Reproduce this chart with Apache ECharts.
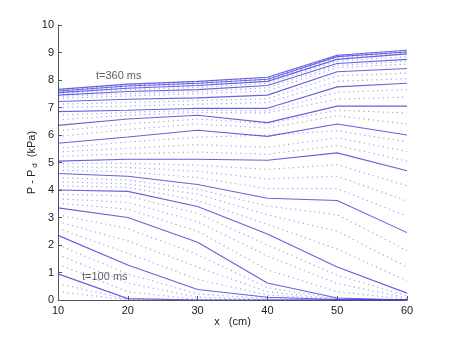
<!DOCTYPE html>
<html>
<head>
<meta charset="utf-8">
<style>
  html, body { margin: 0; padding: 0; background: #fff; }
  #chart { width: 450px; height: 339px; }
</style>
<script src="https://cdn.jsdelivr.net/npm/echarts@6/dist/echarts.min.js"></script>
</head>
<body>
<div id="chart"></div>
<script>
// Axial positions (cm)
const xCm = [10, 20, 30, 40, 50, 60];
const xTicks = [10, 20, 30, 40, 50, 60];
const yTicks = [0, 1, 2, 3, 4, 5, 6, 7, 8, 9, 10];

// Pressure profiles P - Pd (kPa) every 20 ms, solid
const p100 = [0.95, 0.05, 0.00, 0.00, 0.00, 0.00];
const p120 = [2.35, 1.27, 0.38, 0.10, 0.02, 0.00];
const p140 = [3.35, 3.00, 2.10, 0.62, 0.07, 0.00];
const p160 = [4.00, 3.95, 3.40, 2.40, 1.20, 0.25];
const p180 = [4.60, 4.50, 4.20, 3.70, 3.62, 2.45];
const p200 = [5.05, 5.12, 5.12, 5.08, 5.35, 4.70];
const p220 = [5.70, 5.93, 6.17, 5.95, 6.40, 6.00];
const p240 = [6.35, 6.58, 6.72, 6.45, 7.05, 7.05];
const p260 = [6.85, 6.90, 6.97, 6.97, 7.75, 7.88];
const p280 = [7.22, 7.30, 7.35, 7.45, 8.30, 8.42];
const p300 = [7.45, 7.58, 7.65, 7.80, 8.60, 8.75];
const p320 = [7.54, 7.70, 7.80, 7.95, 8.75, 8.95];
const p340 = [7.60, 7.78, 7.88, 8.03, 8.85, 9.02];
const p360 = [7.66, 7.85, 7.95, 8.10, 8.90, 9.08];

// Intermediate profiles, dotted
const d90  = [0.30, 0.00, 0.00, 0.00, 0.00, 0.00];
const d95  = [0.60, 0.02, 0.00, 0.00, 0.00, 0.00];
const d105 = [1.30, 0.30, 0.02, 0.00, 0.00, 0.00];
const d110 = [1.65, 0.62, 0.10, 0.02, 0.00, 0.00];
const d115 = [2.00, 0.95, 0.22, 0.05, 0.01, 0.00];
const d125 = [2.60, 1.70, 0.75, 0.18, 0.03, 0.00];
const d130 = [2.85, 2.15, 1.20, 0.30, 0.04, 0.00];
const d135 = [3.10, 2.60, 1.65, 0.45, 0.05, 0.00];
const d145 = [3.52, 3.30, 2.50, 1.10, 0.30, 0.03];
const d150 = [3.68, 3.55, 2.85, 1.60, 0.60, 0.08];
const d155 = [3.85, 3.78, 3.15, 2.00, 0.90, 0.15];
const d165 = [4.15, 4.10, 3.62, 2.75, 1.85, 0.70];
const d170 = [4.30, 4.22, 3.85, 3.10, 2.50, 1.20];
const d175 = [4.45, 4.36, 4.03, 3.42, 3.10, 1.80];
const d185 = [4.72, 4.66, 4.45, 4.05, 4.05, 3.05];
const d190 = [4.85, 4.82, 4.68, 4.40, 4.50, 3.60];
const d195 = [4.96, 4.97, 4.90, 4.75, 4.92, 4.15];
const d205 = [5.22, 5.32, 5.38, 5.30, 5.62, 5.05];
const d210 = [5.38, 5.52, 5.65, 5.55, 5.90, 5.40];
const d215 = [5.52, 5.75, 5.92, 6.00, 6.15, 5.75];
const d227 = [5.95, 6.20, 6.40, 6.25, 6.70, 6.40];
const d233 = [6.15, 6.40, 6.58, 6.42, 6.90, 6.80];
const d247 = [6.55, 6.72, 6.82, 6.80, 7.30, 7.38];
const d253 = [6.72, 6.82, 6.90, 6.88, 7.55, 7.65];
const d267 = [7.00, 7.05, 7.12, 7.18, 7.95, 8.05];
const d273 = [7.12, 7.18, 7.25, 7.32, 8.15, 8.25];
const d287 = [7.33, 7.42, 7.50, 7.60, 8.45, 8.58];
const d293 = [7.40, 7.50, 7.58, 7.72, 8.53, 8.68];
const d310 = [7.50, 7.65, 7.73, 7.88, 8.68, 8.85];
const d330 = [7.57, 7.74, 7.84, 7.99, 8.80, 8.98];
const d350 = [7.63, 7.82, 7.92, 8.07, 8.88, 9.05];

const solidProfiles = [p100, p120, p140, p160, p180, p200, p220, p240, p260, p280, p300, p320, p340, p360];
const dottedProfiles = [d90, d95, d105, d110, d115, d125, d130, d135, d145, d150, d155,
  d165, d170, d175, d185, d190, d195, d205, d210, d215, d227, d233, d247, d253,
  d267, d273, d287, d293, d310, d330, d350];

// Time annotations: [x, y, text]
const timeLabels = [
  [18.7, 8.15, 't=360 ms'],
  [16.7, 0.84, 't=100 ms']
];

const FONT = '"Liberation Sans", Arial, Helvetica, sans-serif';

function toPairs(vals) {
  return xCm.map((x, i) => [x, vals[i]]);
}

const series = [];
dottedProfiles.forEach(v => {
  series.push({
    type: 'line', data: toPairs(v), symbol: 'none', silent: true,
    lineStyle: { color: 'rgba(85,85,225,0.55)', width: 1.2, type: [1.2, 3.6], cap: 'butt' }
  });
});
solidProfiles.forEach(v => {
  series.push({
    type: 'line', data: toPairs(v), symbol: 'none', silent: true,
    lineStyle: { color: 'rgba(55,55,215,0.78)', width: 1.1 }
  });
});
series.push({
  type: 'scatter', symbolSize: 0, silent: true,
  data: timeLabels.map(d => ({ value: [d[0], d[1]], name: d[2] })),
  label: {
    show: true, position: 'inside', formatter: p => p.name,
    fontFamily: FONT, fontSize: 11, color: '#333'
  }
});

const chart = echarts.init(document.getElementById('chart'), null, { renderer: 'canvas' });
chart.setOption({
  animation: false,
  backgroundColor: '#fff',
  grid: { left: 58, right: 43, top: 25, bottom: 39, containLabel: false },
  xAxis: {
    type: 'value', min: xTicks[0], max: xTicks[xTicks.length - 1], interval: 10,
    name: 'x   (cm)', nameLocation: 'middle', nameGap: 16, nameMoveOverlap: false,
    nameTextStyle: { fontFamily: FONT, fontSize: 11, color: '#222' },
    axisLine: { show: true, onZero: false, lineStyle: { color: '#555', width: 1 } },
    axisTick: { show: true, inside: true, length: 4, lineStyle: { color: '#555' } },
    axisLabel: { fontFamily: FONT, fontSize: 11, color: '#222', margin: 5 },
    splitLine: { show: false }
  },
  yAxis: {
    type: 'value', min: yTicks[0], max: yTicks[yTicks.length - 1], interval: 1,
    name: '{n|P - P}{s|d}{n|  (kPa)}', nameLocation: 'middle', nameGap: 19, nameMoveOverlap: false,
    nameTextStyle: {
      fontFamily: FONT, fontSize: 11, color: '#222',
      rich: {
        n: { fontFamily: FONT, fontSize: 11, color: '#222' },
        s: { fontFamily: FONT, fontSize: 8, color: '#222', padding: [7, 0, 0, 2] }
      }
    },
    axisLine: { show: true, lineStyle: { color: '#555', width: 1 } },
    axisTick: { show: true, inside: true, length: 4, lineStyle: { color: '#555' } },
    axisLabel: { fontFamily: FONT, fontSize: 11, color: '#222', margin: 4 },
    splitLine: { show: false }
  },
  series: series
});
</script>
</body>
</html>
